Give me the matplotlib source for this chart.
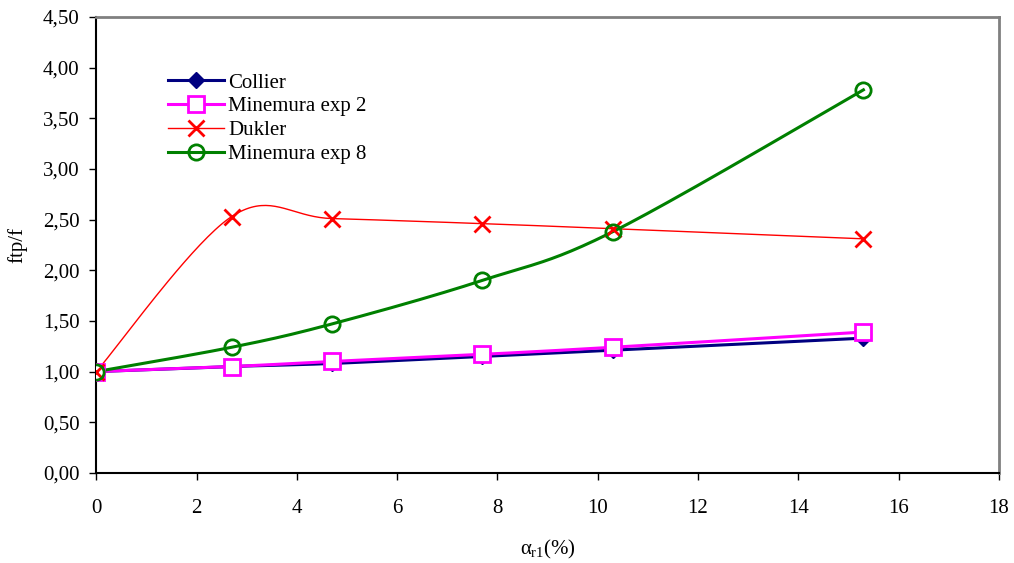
import numpy as np
import matplotlib.pyplot as plt
from matplotlib.ticker import FuncFormatter

# data
alpha = [0, 2.7, 4.7, 7.7, 10.3, 15.3]
collier = [1.00, 1.05, 1.08, 1.15, 1.21, 1.33]
minemura2 = [1.00, 1.05, 1.10, 1.17, 1.24, 1.39]
dukler = [1.00, 2.53, 2.51, 2.46, 2.41, 2.31]
minemura8 = [1.00, 1.24, 1.47, 1.90, 2.38, 3.78]


def smooth(x, y, n=40):
    """Excel-like smoothed line: cubic Bezier through the points, Catmull-Rom tangents."""
    p = np.column_stack([x, y]).astype(float)
    pts = [p[0]]
    t = np.linspace(0, 1, n)[1:, None]
    for i in range(len(p) - 1):
        p0 = p[i - 1] if i > 0 else p[i]
        p3 = p[i + 2] if i + 2 < len(p) else p[i + 1]
        c1 = p[i] + (p[i + 1] - p0) / 6
        c2 = p[i + 1] - (p3 - p[i]) / 6
        seg = ((1 - t) ** 3 * p[i] + 3 * (1 - t) ** 2 * t * c1
               + 3 * (1 - t) * t ** 2 * c2 + t ** 3 * p[i + 1])
        pts.extend(seg)
    pts = np.array(pts)
    return pts[:, 0], pts[:, 1]


plt.rcParams['font.family'] = ['Liberation Serif', 'DejaVu Serif']
plt.rcParams['mathtext.fontset'] = 'custom'
plt.rcParams['mathtext.rm'] = 'Liberation Serif'
plt.rcParams['mathtext.it'] = 'Liberation Serif'

fig = plt.figure(figsize=(10.14, 5.63), dpi=100)
ax = fig.add_axes([0.095, 0.16, 0.89, 0.81])

series = [
    ("Collier", collier, dict(color="#000080", lw=2.2, marker="D", ms=8,
                              mfc="#000080", mec="#000080")),
    ("Minemura exp 2", minemura2, dict(color="#FF00FF", lw=2.2, marker="s", ms=11,
                                       mfc="white", mec="#FF00FF", mew=2)),
    ("Dukler", dukler, dict(color="#FF0000", lw=1, marker="x", ms=11,
                            mec="#FF0000", mew=2)),
    ("Minemura exp 8", minemura8, dict(color="#008000", lw=2.2, marker="o", ms=11,
                                       mfc="none", mec="#008000", mew=2)),
]

for name, vals, st in series:
    sx, sy = smooth(alpha, vals)
    ax.plot(sx, sy, color=st["color"], lw=st["lw"], zorder=2)
    mk = {k: v for k, v in st.items() if k not in ("color", "lw")}
    ax.plot(alpha, vals, ls="none", zorder=3, **mk)
    ax.plot([], [], label=name, **st)

ax.set_xlim(0, 18)
ax.set_ylim(0, 4.5)
ax.set_xticks(np.arange(0, 19, 2))
ax.set_yticks(np.arange(0, 4.51, 0.5))
ax.yaxis.set_major_formatter(FuncFormatter(lambda v, p: f"{v:.2f}".replace(".", ",")))
ax.tick_params(direction="out", length=5, width=1, labelsize=15, colors="black")
ax.tick_params(axis="x", pad=14)
ax.tick_params(axis="y", pad=7)

for s in ("top", "right"):
    ax.spines[s].set_color("#808080")
    ax.spines[s].set_linewidth(2)
for s in ("left", "bottom"):
    ax.spines[s].set_linewidth(1.5)

ax.set_ylabel("ftp/f", fontsize=15, labelpad=11)
ax.set_xlabel(r"$\alpha_{\mathrm{r1}}$(%)", fontsize=15, labelpad=14)

ax.legend(loc="upper left", bbox_to_anchor=(0.07, 0.895), frameon=False, fontsize=15,
          handlelength=2.7, handletextpad=0.2, labelspacing=0.2, borderaxespad=0)

fig.savefig("out.png", dpi=100)
